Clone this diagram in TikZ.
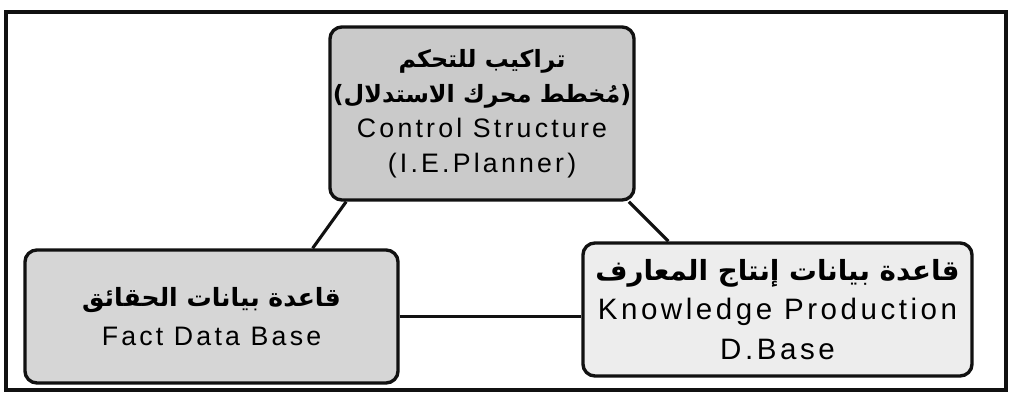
\documentclass[tikz,border=0pt]{standalone}
\usepackage{fontspec}
\setmainfont{Liberation Sans}
\newfontfamily\arabicfont[Script=Arabic, Scale=0.94]{DejaVu Sans}
\newfontfamily\latinfont[LetterSpace=12]{Liberation Sans}
\TeXXeTstate=1
\definecolor{frameLine}{HTML}{111111}
\definecolor{ctrlFill}{HTML}{CACACA}
\definecolor{factFill}{HTML}{D6D6D6}
\definecolor{knowFill}{HTML}{EDEDED}
\newcommand{\artext}[1]{{\arabicfont\bfseries\beginR #1\endR}}

\begin{document}
\begin{tikzpicture}[
  x=0.025cm, y=-0.025cm,
  font=\latinfont\fontsize{19}{25}\selectfont,
  box/.style ={draw=frameLine, line width=2.4pt, rounded corners=0.3cm, align=center, inner sep=0pt},
  ctrl/.style={box, fill=ctrlFill, minimum width=7.6cm, minimum height=4.325cm},
  fact/.style={box, fill=factFill, minimum width=9.325cm, minimum height=3.325cm, font=\latinfont\fontsize{19}{28}\selectfont},
  know/.style={box, fill=knowFill, minimum width=9.725cm, minimum height=3.325cm, font=\latinfont\fontsize{21}{28}\selectfont},
  link/.style={draw=frameLine, line width=2.2pt},
  frame/.style={draw=frameLine, line width=3.2pt},
]
\useasboundingbox (0,0) rectangle (1015,398);
% ----- outer frame -----
\draw[frame] (6,12) rectangle (1006,390);
% ----- boxes -----
\node[ctrl] (CS) at (482,113.5)
  {{\fontsize{18}{25}\selectfont\artext{تراكيب للتحكم}}\\
   {\fontsize{18}{25}\selectfont\artext{(مُخطط محرك الاستدلال)}}\\
   Control Structure\\
   (I.E.Planner)};
\node[fact] (FD) at (211.5,316.5)
  {\artext{قاعدة بيانات الحقائق}\\
   Fact Data Base};
\node[know] (KP) at (777.5,309.5)
  {\artext{قاعدة بيانات إنتاج المعارف}\\
   Knowledge Production\\
   D.Base};
% ----- links -----
\draw[link] (CS.213) -- (FD.34);
\draw[link] (CS.329) -- (KP.148);
\draw[link] (FD.east) -- (FD.east -| KP.west);
\end{tikzpicture}
\end{document}
